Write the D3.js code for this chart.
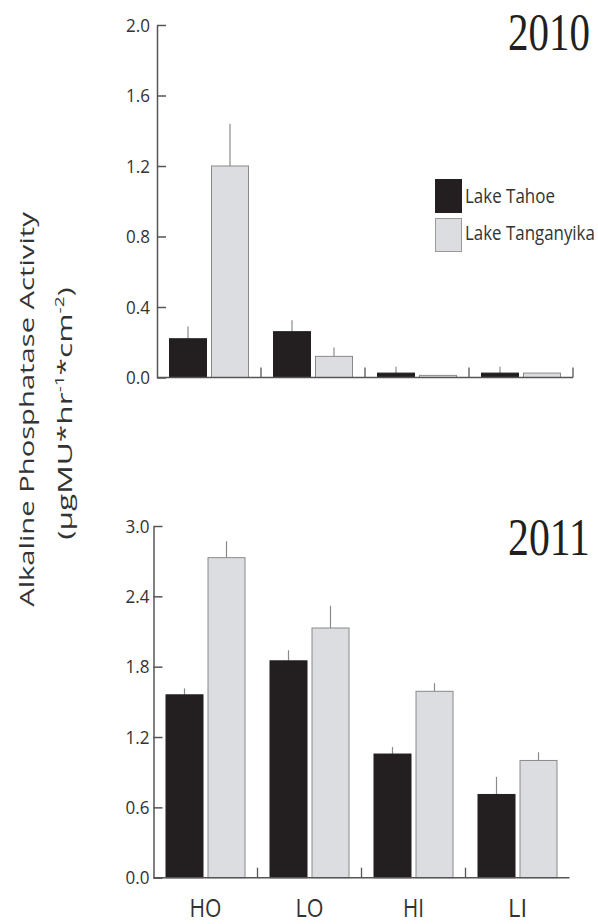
<!DOCTYPE html>
<html>
<head>
<meta charset="utf-8">
<script src="https://cdn.jsdelivr.net/npm/d3@7/dist/d3.min.js"></script>
<style>
  html, body { margin: 0; padding: 0; background: #fff; }
  svg { display: block; }
</style>
</head>
<body>
<svg id="chart" width="598" height="924"></svg>
<script>
// Sites and lakes
const sites = ["HO", "LO", "HI", "LI"];
const lakes = ["Lake Tahoe", "Lake Tanganyika"];

// 2010 means and standard errors
const tahoe2010 = [0.22, 0.26, 0.025, 0.025];
const tahoe2010Err = [0.07, 0.065, 0.036, 0.036];
const tang2010 = [1.20, 0.12, 0.012, 0.025];
const tang2010Err = [0.24, 0.05, 0, 0];

// 2011 means and standard errors
const tahoe2011 = [1.56, 1.85, 1.055, 0.71];
const tahoe2011Err = [0.055, 0.09, 0.06, 0.15];
const tang2011 = [2.73, 2.13, 1.59, 1.00];
const tang2011Err = [0.14, 0.19, 0.07, 0.07];

// Axis ticks
const ticks2010 = [0, 0.4, 0.8, 1.2, 1.6, 2.0];
const ticks2011 = [0, 0.6, 1.2, 1.8, 2.4, 3.0];

const colors = { "Lake Tahoe": "#231f20", "Lake Tanganyika": "#dcdde0" };
const strokes = { "Lake Tahoe": "#231f20", "Lake Tanganyika": "#8a8a8a" };
const axisColor = "#555";
const sans = "'Open Sans', 'Noto Sans', sans-serif";
const serif = "'Liberation Serif', 'DejaVu Serif', serif";

const svg = d3.select("#chart");

// Place a text at (x, y), rotated by rot, and squeezed/stretched along its
// reading direction so it spans the given length.
function fitText(g, str, x, y, size, len, opts = {}) {
  const t = g.append("text")
    .attr("font-family", opts.family || sans)
    .attr("font-size", size)
    .attr("fill", opts.fill || "#231f20")
    .attr("text-anchor", opts.anchor || "start")
    .text(str);
  const natural = t.node().getComputedTextLength();
  const k = len ? len / natural : 1;
  t.attr("transform", `translate(${x},${y}) rotate(${opts.rot || 0}) scale(${k},1)`);
  return t;
}

function panel(cfg) {
  const g = svg.append("g");
  const y = d3.scaleLinear().domain(cfg.domain).range([cfg.yBottom, cfg.yTop]);
  const x = d3.scaleBand().domain(sites).range([cfg.x0, cfg.x0 + 416]).padding(0);
  const xs = d3.scaleBand().domain(lakes).range([12, 92]).paddingInner(4 / 42).paddingOuter(0);

  const rows = [];
  sites.forEach((s, i) => {
    rows.push({ site: s, lake: lakes[0], v: cfg.a[i], e: cfg.aErr[i] });
    rows.push({ site: s, lake: lakes[1], v: cfg.b[i], e: cfg.bErr[i] });
  });

  // Error bars (upper whisker only)
  g.selectAll("line.err").data(rows.filter(d => d.e > 0)).join("line")
    .attr("class", "err")
    .attr("x1", d => x(d.site) + xs(d.lake) + xs.bandwidth() / 2)
    .attr("x2", d => x(d.site) + xs(d.lake) + xs.bandwidth() / 2)
    .attr("y1", d => y(d.v))
    .attr("y2", d => y(d.v + d.e))
    .attr("stroke", "#8a8a8a")
    .attr("stroke-width", 1.2);

  // Bars
  g.selectAll("rect.bar").data(rows).join("rect")
    .attr("class", "bar")
    .attr("x", d => x(d.site) + xs(d.lake) + 0.5)
    .attr("width", xs.bandwidth() - 1)
    .attr("y", d => y(d.v))
    .attr("height", d => y(0) - y(d.v))
    .attr("fill", d => colors[d.lake])
    .attr("stroke", d => strokes[d.lake])
    .attr("stroke-width", 1);

  // Y axis: ticks point inward, labels on the left
  const yAxis = d3.axisLeft(y).tickValues(cfg.ticks)
    .tickFormat(d3.format(".1f"))
    .tickSizeInner(-9).tickSizeOuter(0).tickPadding(cfg.pad);
  const ya = g.append("g").attr("transform", `translate(${cfg.x0},0)`).call(yAxis);
  ya.select(".domain").attr("stroke", axisColor).attr("stroke-width", 1.5);
  ya.selectAll(".tick line").attr("stroke", axisColor).attr("stroke-width", 1.5);
  ya.selectAll(".tick text").remove();
  ya.selectAll(".tick").each(function (d) {
    const tk = d3.select(this);
    fitText(tk, d3.format(".1f")(d), -cfg.pad, 6, 18, 24, { anchor: "end", fill: "#333" });
  });

  // X axis baseline with short upward separators between sites
  g.append("line")
    .attr("x1", cfg.x0).attr("x2", cfg.x0 + 416)
    .attr("y1", y(0)).attr("y2", y(0))
    .attr("stroke", axisColor).attr("stroke-width", 1.5);
  const seps = sites.slice(1).map(s => x(s));
  if (cfg.endTick) seps.push(cfg.x0 + 416);
  g.selectAll("line.sep").data(seps).join("line")
    .attr("class", "sep")
    .attr("x1", d => d).attr("x2", d => d)
    .attr("y1", y(0)).attr("y2", y(0) - 10)
    .attr("stroke", axisColor).attr("stroke-width", 1.3);

  // Year label
  fitText(g, cfg.year, 508, cfg.yearBase, 52, 82, { family: serif, fill: "#231f20" });

  return { g, x };
}

panel({
  domain: [0, 2], yTop: 25, yBottom: 377.5, x0: 157, pad: 7,
  ticks: ticks2010, a: tahoe2010, aErr: tahoe2010Err, b: tang2010, bErr: tang2010Err,
  year: "2010", yearBase: 50, endTick: true
});

const bottom = panel({
  domain: [0, 3], yTop: 526, yBottom: 877.7, x0: 153.5, pad: 4,
  ticks: ticks2011, a: tahoe2011, aErr: tahoe2011Err, b: tang2011, bErr: tang2011Err,
  year: "2011", yearBase: 555, endTick: false
});

// Site labels under the lower panel
const siteWidths = { HO: 32, LO: 28, HI: 21, LI: 19 };
sites.forEach(s => {
  fitText(bottom.g, s, bottom.x(s) + 52, 917, 26, siteWidths[s], { anchor: "middle", fill: "#333" });
});

// Legend
const legend = svg.append("g");
const legendRows = [
  { lake: lakes[0], y: 179, base: 203, w: 90 },
  { lake: lakes[1], y: 218, base: 240, w: 130 }
];
legendRows.forEach(r => {
  legend.append("rect")
    .attr("x", 435.5).attr("y", r.y + 0.5).attr("width", 26).attr("height", 33)
    .attr("fill", colors[r.lake])
    .attr("stroke", r.lake === lakes[0] ? colors[r.lake] : "#9a9a9a");
  fitText(legend, r.lake, 465, r.base, 20, r.w, { fill: "#333" });
});

// Shared y-axis title
const title = svg.append("g");
fitText(title, "Alkaline Phosphatase Activity", 34, 409.5, 20, 395,
  { rot: -90, anchor: "middle", fill: "#333" });
const unit = title.append("text")
  .attr("font-family", sans).attr("font-size", 20).attr("fill", "#333")
  .attr("text-anchor", "middle");
unit.append("tspan").text("(µgMU*hr");
unit.append("tspan").attr("font-size", 12).attr("dy", -8).text("-1");
unit.append("tspan").attr("dy", 8).text("*cm");
unit.append("tspan").attr("font-size", 12).attr("dy", -8).text("-2");
unit.append("tspan").attr("dy", 8).text(")");
{
  const natural = unit.node().getComputedTextLength();
  const k = 253 / natural;
  unit.attr("transform", `translate(72,413.5) rotate(-90) scale(${k},1)`);
}
</script>
</body>
</html>
